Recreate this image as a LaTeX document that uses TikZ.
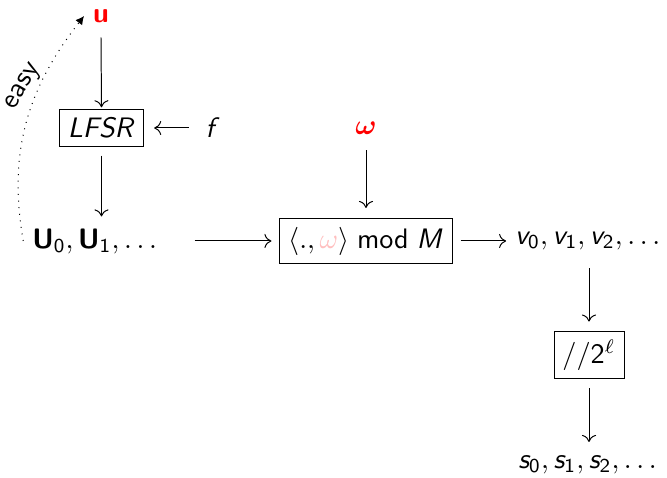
\documentclass[tikz,border=0pt]{standalone}
\usepackage{amsmath,bm}
\DeclareMathAlphabet{\mathsfit}{OT1}{cmss}{m}{sl}
\DeclareMathAlphabet{\mathsfbf}{OT1}{cmss}{bx}{n}
\SetSymbolFont{operators}{normal}{OT1}{cmss}{m}{n}
\usetikzlibrary{arrows.meta,calc}
\tikzset{
  lbl/.style={inner sep=3pt, font=\sffamily},
  boxed/.style={draw, line width=0.35pt, inner sep=3pt, font=\sffamily},
  arr/.style={-{Computer Modern Rightarrow[length=2.5pt,width=5pt]}, line width=0.35pt},
}
\begin{document}
\begin{tikzpicture}[x=0.355pt, y=-0.355pt]
\path[use as bounding box] (0,0) rectangle (667,478);
\node[lbl] (u) at (101,16) {$\color{red}\mathsfbf{u}$};
\node[boxed] (lfsr) at (101.5,128) {$\mathsfit{LFSR}$};
\node[lbl] (f) at (213,128) {$\mathsfit{f}$};
\node[lbl] (U) at (97,241) {$\mathsfbf{U}_0, \mathsfbf{U}_1, \dots$};
\node[lbl] (w) at (366,128) {$\color{red}\bm{\omega}$};
\node[boxed] (mod) at (366,241) {$\langle ., {\color{red!25}\omega}\rangle \bmod \mathsfit{M}$};
\node[lbl] (v) at (590,241) {$\mathsfit{v}_0, \mathsfit{v}_1, \mathsfit{v}_2, \dots$};
\node[boxed] (div) at (589,355) {$//2^{\ell}$};
\node[lbl] (s) at (590,465) {$\mathsfit{s}_0, \mathsfit{s}_1, \mathsfit{s}_2, \dots$};
\draw[arr] ($(u.south)+(0,6)$) -- ($(lfsr.north)+(0,-2)$);
\draw[arr] ($(f.west)+(-8,0)$) -- ($(lfsr.east)+(10,0)$);
\draw[arr] ($(lfsr.south)+(0,9)$) -- ($(lfsr.south |- U.north)+(0,-3)$);
\draw[arr] ($(w.south)+(0,7)$) -- ($(mod.north)+(0,-10)$);
\draw[arr] ($(U.east)+(24,0)$) -- ($(mod.west)+(-8,0)$);
\draw[arr] ($(mod.east)+(8,0)$) -- (v.west);
\draw[arr] ($(div.north |- v.south)+(0,9)$) -- ($(div.north)+(0,-9)$);
\draw[arr] ($(div.south)+(0,9)$) -- ($(div.south |- s.north)+(0,-5)$);
\draw[dotted, line width=0.35pt, -{Latex[length=3pt,width=3pt]}] (U.west) to[out=100, in=232, looseness=1.0] (u.west);
\node[lbl, rotate=60, inner sep=0pt] (easy) at (24,87) {easy};
\end{tikzpicture}
\end{document}
